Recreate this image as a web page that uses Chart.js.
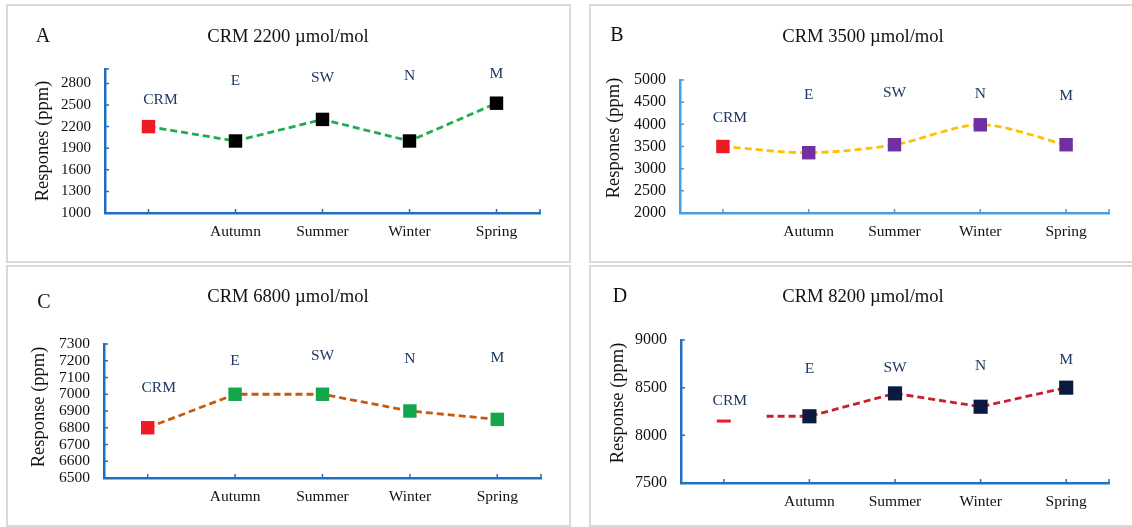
<!DOCTYPE html>
<html>
<head>
<meta charset="utf-8">
<script src="https://cdn.jsdelivr.net/npm/chart.js@4.4.0/dist/chart.umd.min.js"></script>
<style>
html,body{margin:0;padding:0;background:#fff;overflow:hidden;}
body{width:1132px;height:527px;position:relative;}
.panel{position:absolute;box-sizing:border-box;border:2px solid #dadada;background:#fff;overflow:hidden;}
.panel canvas{position:absolute;left:0;top:0;}
</style>
</head>
<body>
<div class="panel" style="left:6px;top:4px;width:565px;height:259px"><canvas id="cA" width="561" height="255"></canvas></div>
<div class="panel" style="left:589px;top:4px;width:560px;height:259px"><canvas id="cB" width="556" height="255"></canvas></div>
<div class="panel" style="left:6px;top:265px;width:565px;height:262px"><canvas id="cC" width="561" height="258"></canvas></div>
<div class="panel" style="left:589px;top:265px;width:560px;height:262px"><canvas id="cD" width="556" height="258"></canvas></div>
<script>
// x categories (index 0 is the CRM reference, no label under the axis)
const categories = ['', 'Autumn', 'Summer', 'Winter', 'Spring'];
const siteNames = ['CRM', 'E', 'SW', 'N', 'M'];

// A - CRM 2200
const crmA = 2200;
const seasonA = [2000, 2300, 2000, 2525];
const ticksA = [1000, 1300, 1600, 1900, 2200, 2500, 2800];
const labelLevelA = [2575, 2840, 2875, 2900, 2925];

// B - CRM 3500
const crmB = 3500;
const seasonB = [3360, 3540, 3990, 3540];
const ticksB = [2000, 2500, 3000, 3500, 4000, 4500, 5000];
const labelLevelB = [4145, 4660, 4700, 4680, 4645];

// C - CRM 6800
const crmC = 6800;
const seasonC = [7000, 7000, 6900, 6850];
const ticksC = [6500, 6600, 6700, 6800, 6900, 7000, 7100, 7200, 7300];
const labelLevelC = [7040, 7200, 7230, 7210, 7215];

// D - CRM 8200 (trend line starts half way to Autumn)
const crmD = 8150;
const seasonD = [8200, 8440, 8300, 8500];
const ticksD = [7500, 8000, 8500, 9000];
const labelLevelD = [8360, 8695, 8705, 8730, 8790];
const lineStartD = 0.5;

const serif = 'Liberation Serif, Times New Roman, serif';

//panel settings
const panels = [
  {id:'cA', letter:'A', title:'CRM 2200 \u00b5mol/mol', yTitle:'Respones (ppm)',
   crm:crmA, seasons:seasonA, ticks:ticksA, levels:labelLevelA, min:1000, max:3000,
   lineColor:'#1fae4b', markColor:'#000000', axis:'#1f6fc0', tickSize:15,
   yw:97, padR:29, padT:63, xh:48, tension:0,
   letterPos:[35,31], titlePos:[280,31], yTitlePos:[35,135], crmShift:12},
  {id:'cB', letter:'B', title:'CRM 3500 \u00b5mol/mol', yTitle:'Respones (ppm)',
   crm:crmB, seasons:seasonB, ticks:ticksB, levels:labelLevelB, min:2000, max:5000,
   lineColor:'#ffc000', markColor:'#7030a0', axis:'#4d9ddc', tickSize:16,
   yw:89, padR:38, padT:74, xh:48, tension:0.3,
   letterPos:[26,30], titlePos:[272,31], yTitlePos:[23,132], crmShift:7},
  {id:'cC', letter:'C', title:'CRM 6800 \u00b5mol/mol', yTitle:'Response (ppm)',
   crm:crmC, seasons:seasonC, ticks:ticksC, levels:labelLevelC, min:6500, max:7300,
   lineColor:'#c55a11', markColor:'#14a64a', axis:'#1f6fc0', tickSize:15.5,
   yw:96, padR:28, padT:77, xh:47, tension:0,
   letterPos:[36,36], titlePos:[280,30], yTitlePos:[31,140], crmShift:11},
  {id:'cD', letter:'D', title:'CRM 8200 \u00b5mol/mol', yTitle:'Response (ppm)',
   crm:crmD, seasons:seasonD, ticks:ticksD, levels:labelLevelD, min:7500, max:9000,
   lineColor:'#c8202d', markColor:'#0b1a40', axis:'#2272c3', tickSize:16,
   yw:90, padR:38, padT:73, xh:42, tension:0,
   letterPos:[29,30], titlePos:[272,30], yTitlePos:[27,136], crmShift:6,
   lineFrom:lineStartD, crmDash:true}
];

// texts + small inward tick marks
const panelText = {
  id:'panelText',
  afterDraw(chart){
    const p = chart.options.plugins.panelText.p;
    const ctx = chart.ctx;
    const xs = chart.scales.x, ys = chart.scales.y;
    const a = chart.chartArea;
    ctx.save();
    ctx.strokeStyle = p.axis;
    ctx.lineWidth = 1.5;
    ctx.beginPath();
    categories.forEach((c,i)=>{
      const x = xs.getPixelForValue(i);
      ctx.moveTo(x, a.bottom); ctx.lineTo(x, a.bottom-4);
    });
    ctx.moveTo(a.right, a.bottom); ctx.lineTo(a.right, a.bottom-4);
    p.ticks.concat([ys.max]).forEach(v=>{
      const y = ys.getPixelForValue(v);
      ctx.moveTo(a.left, y); ctx.lineTo(a.left+4, y);
    });
    ctx.stroke();

    ctx.fillStyle = '#111';
    ctx.textBaseline = 'middle';
    ctx.textAlign = 'center';
    ctx.font = '20px ' + serif;
    ctx.fillText(p.letter, p.letterPos[0], p.letterPos[1]);
    ctx.font = '18.6px ' + serif;
    ctx.fillText(p.title, p.titlePos[0], p.titlePos[1]);

    ctx.save();
    ctx.translate(p.yTitlePos[0], p.yTitlePos[1]);
    ctx.rotate(-Math.PI/2);
    ctx.font = '18.5px ' + serif;
    ctx.fillText(p.yTitle, 0, 0);
    ctx.restore();

    ctx.fillStyle = '#1f3864';
    ctx.font = '15.5px ' + serif;
    siteNames.forEach((s,i)=>{
      const x = xs.getPixelForValue(i) + (i===0 ? p.crmShift : 0);
      ctx.fillText(s, x, ys.getPixelForValue(p.levels[i]));
    });
    ctx.restore();
  }
};

panels.forEach(p=>{
  const sitePts = p.seasons.map((v,i)=>({x:i+1, y:v}));
  const linePts = p.lineFrom !== undefined
    ? [{x:p.lineFrom, y:p.seasons[0]}].concat(sitePts)
    : [{x:0, y:p.crm}].concat(sitePts);

  new Chart(document.getElementById(p.id), {
    type:'line',
    data:{
      datasets:[
        {data:[{x:0, y:p.crm}], showLine:false,
         pointStyle: p.crmDash ? 'line' : 'rect',
         pointRadius: p.crmDash ? 7 : 9.5,
         pointBackgroundColor:'#ed1c24', pointBorderColor:'#ed1c24',
         pointBorderWidth: p.crmDash ? 3 : 0, clip:false},
        {data:sitePts, showLine:false, pointStyle:'rect', pointRadius: p.crmDash ? 10 : 9.5,
         pointBackgroundColor:p.markColor, pointBorderColor:p.markColor, pointBorderWidth:0, clip:false},
        {data:linePts, borderColor:p.lineColor, borderWidth:2.8, borderDash:[7,4],
         pointRadius:0, tension:p.tension, fill:false, clip:false}
      ]
    },
    options:{
      responsive:false,
      animation:false,
      events:[],
      layout:{padding:{left:0, right:p.padR, top:p.padT, bottom:0}},
      plugins:{legend:{display:false}, tooltip:{enabled:false}, panelText:{p:p}},
      scales:{
        x:{
          type:'linear', min:-0.5, max:4.5,
          afterBuildTicks: s => { s.ticks = categories.map((c,i)=>({value:i})); },
          ticks:{callback: v => categories[v], font:{family:serif, size:15.5}, color:'#111',
                 padding:10, autoSkip:false, maxRotation:0},
          grid:{display:false, drawTicks:false},
          border:{display:true, color:p.axis, width:2.5},
          afterFit: s => { s.height = p.xh; }
        },
        y:{
          min:p.min, max:p.max,
          afterBuildTicks: s => { s.ticks = p.ticks.map(v=>({value:v})); },
          ticks:{callback: v => String(v), font:{family:serif, size:p.tickSize}, color:'#111',
                 padding:14, autoSkip:false},
          grid:{display:false, drawTicks:false},
          border:{display:true, color:p.axis, width:2.5},
          afterFit: s => { s.width = p.yw; }
        }
      }
    },
    plugins:[panelText]
  });
});
</script>
</body>
</html>
